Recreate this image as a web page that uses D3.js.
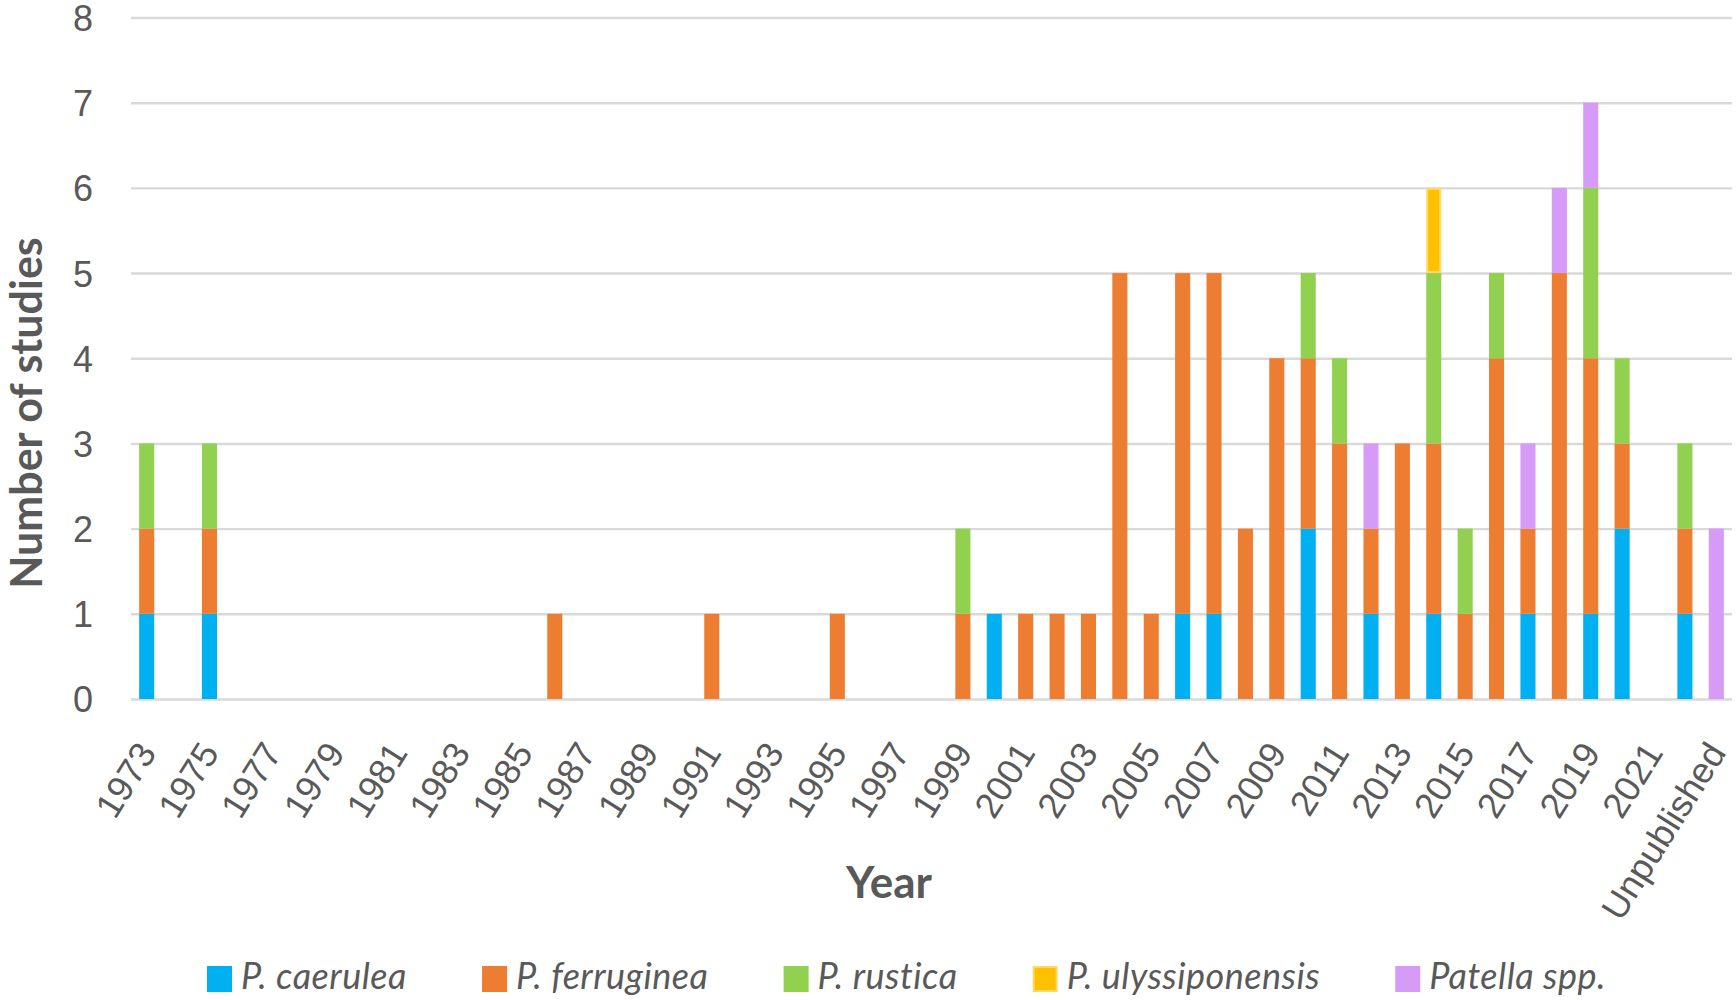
<!DOCTYPE html>
<html lang="en">
<head>
<meta charset="UTF-8">
<title>Number of studies per year</title>
<script src="https://cdn.jsdelivr.net/npm/d3@7"></script>
<style>
  html, body { margin: 0; padding: 0; background: #fff; }
  svg { display: block; font-family: Lato, "Open Sans", sans-serif; }
</style>
</head>
<body>
<svg id="chart" width="1736" height="1000"></svg>
<script>
// categories on the x axis
const years = [
  "1973","1974","1975","1976","1977","1978","1979","1980","1981","1982",
  "1983","1984","1985","1986","1987","1988","1989","1990","1991","1992",
  "1993","1994","1995","1996","1997","1998","1999","2000","2001","2002",
  "2003","2004","2005","2006","2007","2008","2009","2010","2011","2012",
  "2013","2014","2015","2016","2017","2018","2019","2020","2021","2022",
  "Unpublished"
];

// studies per species, one value per category
const caerulea = [
  1,0,1,0,0,0,0,0,0,0,
  0,0,0,0,0,0,0,0,0,0,
  0,0,0,0,0,0,0,1,0,0,
  0,0,0,1,1,0,0,2,0,1,
  0,1,0,0,1,0,1,2,0,1,
  0
];
const ferruginea = [
  1,0,1,0,0,0,0,0,0,0,
  0,0,0,1,0,0,0,0,1,0,
  0,0,1,0,0,0,1,0,1,1,
  1,5,1,4,4,2,4,2,3,1,
  3,2,1,4,1,5,3,1,0,1,
  0
];
const rustica = [
  1,0,1,0,0,0,0,0,0,0,
  0,0,0,0,0,0,0,0,0,0,
  0,0,0,0,0,0,1,0,0,0,
  0,0,0,0,0,0,0,1,1,0,
  0,2,1,1,0,0,2,1,0,1,
  0
];
const ulyssiponensis = [
  0,0,0,0,0,0,0,0,0,0,
  0,0,0,0,0,0,0,0,0,0,
  0,0,0,0,0,0,0,0,0,0,
  0,0,0,0,0,0,0,0,0,0,
  0,1,0,0,0,0,0,0,0,0,
  0
];
const pspp = [
  0,0,0,0,0,0,0,0,0,0,
  0,0,0,0,0,0,0,0,0,0,
  0,0,0,0,0,0,0,0,0,0,
  0,0,0,0,0,0,0,0,0,1,
  0,0,0,0,1,1,1,0,0,0,
  2
];

const seriesNames = ["P. caerulea", "P. ferruginea", "P. rustica", "P. ulyssiponensis", "Patella spp."];
const seriesValues = [caerulea, ferruginea, rustica, ulyssiponensis, pspp];
const yTicks = [0, 1, 2, 3, 4, 5, 6, 7, 8];

const colors = ["#00B0F0", "#ED7D31", "#92D050", "#FFC000", "#D59BF6"];
const strokes = [null, null, null, "#FFD966", null];

const svg = d3.select("#chart");
const margin = { left: 131, right: 4, top: 17.5, bottom: 301 };
const W = 1736, H = 1000;
const x0 = margin.left, x1 = W - margin.right;
const yTop = margin.top, yBot = H - margin.bottom;

// table for d3.stack
const table = years.map((yr, i) => {
  const row = { year: yr };
  seriesNames.forEach((s, k) => row[s] = seriesValues[k][i]);
  return row;
});
const stacked = d3.stack().keys(seriesNames)(table);

const x = d3.scaleBand().domain(years).range([x0, x1]).paddingInner(0.52).paddingOuter(0.26);
const y = d3.scaleLinear().domain([0, 8]).range([yBot, yTop]);

svg.append("rect").attr("width", W).attr("height", H).attr("fill", "#fff");

// grid + y labels
const yAxis = svg.append("g")
  .attr("transform", `translate(${x0},0)`)
  .call(d3.axisLeft(y).tickValues(yTicks).tickSize(-(x1 - x0)).tickPadding(38).tickFormat(d3.format("d")));
yAxis.select(".domain").remove();
yAxis.selectAll(".tick line").attr("stroke", "#D9D9D9").attr("stroke-width", 2.4);
yAxis.selectAll(".tick text")
  .attr("fill", "#595959")
  .style("font-size", "36px")
  .attr("dy", "0.36em");

// bars
const layer = svg.append("g").selectAll("g")
  .data(stacked)
  .join("g")
  .attr("fill", (d, k) => colors[k]);

layer.selectAll("rect")
  .data((d, k) => d.map(p => ({ p, k })).filter(o => o.p[1] > o.p[0]))
  .join("rect")
  .attr("x", o => x(o.p.data.year) + (strokes[o.k] ? 1 : 0))
  .attr("width", o => x.bandwidth() - (strokes[o.k] ? 2 : 0))
  .attr("y", o => y(o.p[1]) + (strokes[o.k] ? 1 : 0))
  .attr("height", o => y(o.p[0]) - y(o.p[1]) - (strokes[o.k] ? 2 : 0))
  .attr("stroke", o => strokes[o.k] || "none")
  .attr("stroke-width", 2);

// x labels
const xAxis = svg.append("g")
  .attr("transform", `translate(0,${yBot})`)
  .call(d3.axisBottom(x).tickSize(0).tickFormat((d, i) => i % 2 === 0 ? d : ""));
xAxis.select(".domain").remove();
xAxis.selectAll(".tick text")
  .attr("fill", "#595959")
  .style("font-size", "36px")
  .attr("text-anchor", "end")
  .attr("x", 0)
  .attr("y", 0)
  .attr("dy", "0.35em")
  .attr("transform", "translate(0,47) rotate(-58)");

// axis titles
svg.append("text")
  .attr("transform", "translate(42,413) rotate(-90)")
  .attr("text-anchor", "middle")
  .attr("fill", "#595959")
  .style("font-size", "43px")
  .style("font-weight", "bold")
  .text("Number of studies");

svg.append("text")
  .attr("x", 889)
  .attr("y", 898)
  .attr("text-anchor", "middle")
  .attr("fill", "#595959")
  .style("font-size", "44px")
  .style("font-weight", "bold")
  .text("Year");

// legend: squares + italic names, spread from x=207 to x=1606
const legendLeft = 207, legendRight = 1606;
const legend = svg.append("g");
const items = seriesNames.map((name, k) => {
  const item = legend.append("g");
  item.append("rect")
    .attr("x", strokes[k] ? 1 : 0)
    .attr("y", 966 + (strokes[k] ? 1 : 0))
    .attr("width", strokes[k] ? 23 : 25)
    .attr("height", strokes[k] ? 24 : 26)
    .attr("fill", colors[k])
    .attr("stroke", strokes[k] || "none")
    .attr("stroke-width", 2);
  const t = item.append("text")
    .attr("x", 34)
    .attr("y", 989)
    .attr("fill", "#595959")
    .style("font-size", "36px")
    .style("font-style", "italic")
    .style("letter-spacing", "0.5px")
    .text(name);
  return { item, w: 34 + t.node().getComputedTextLength() };
});
const used = d3.sum(items, d => d.w);
const gap = (legendRight - legendLeft - used) / (items.length - 1);
let lx = legendLeft;
items.forEach(d => {
  d.item.attr("transform", `translate(${lx},0)`);
  lx += d.w + gap;
});
</script>
</body>
</html>
